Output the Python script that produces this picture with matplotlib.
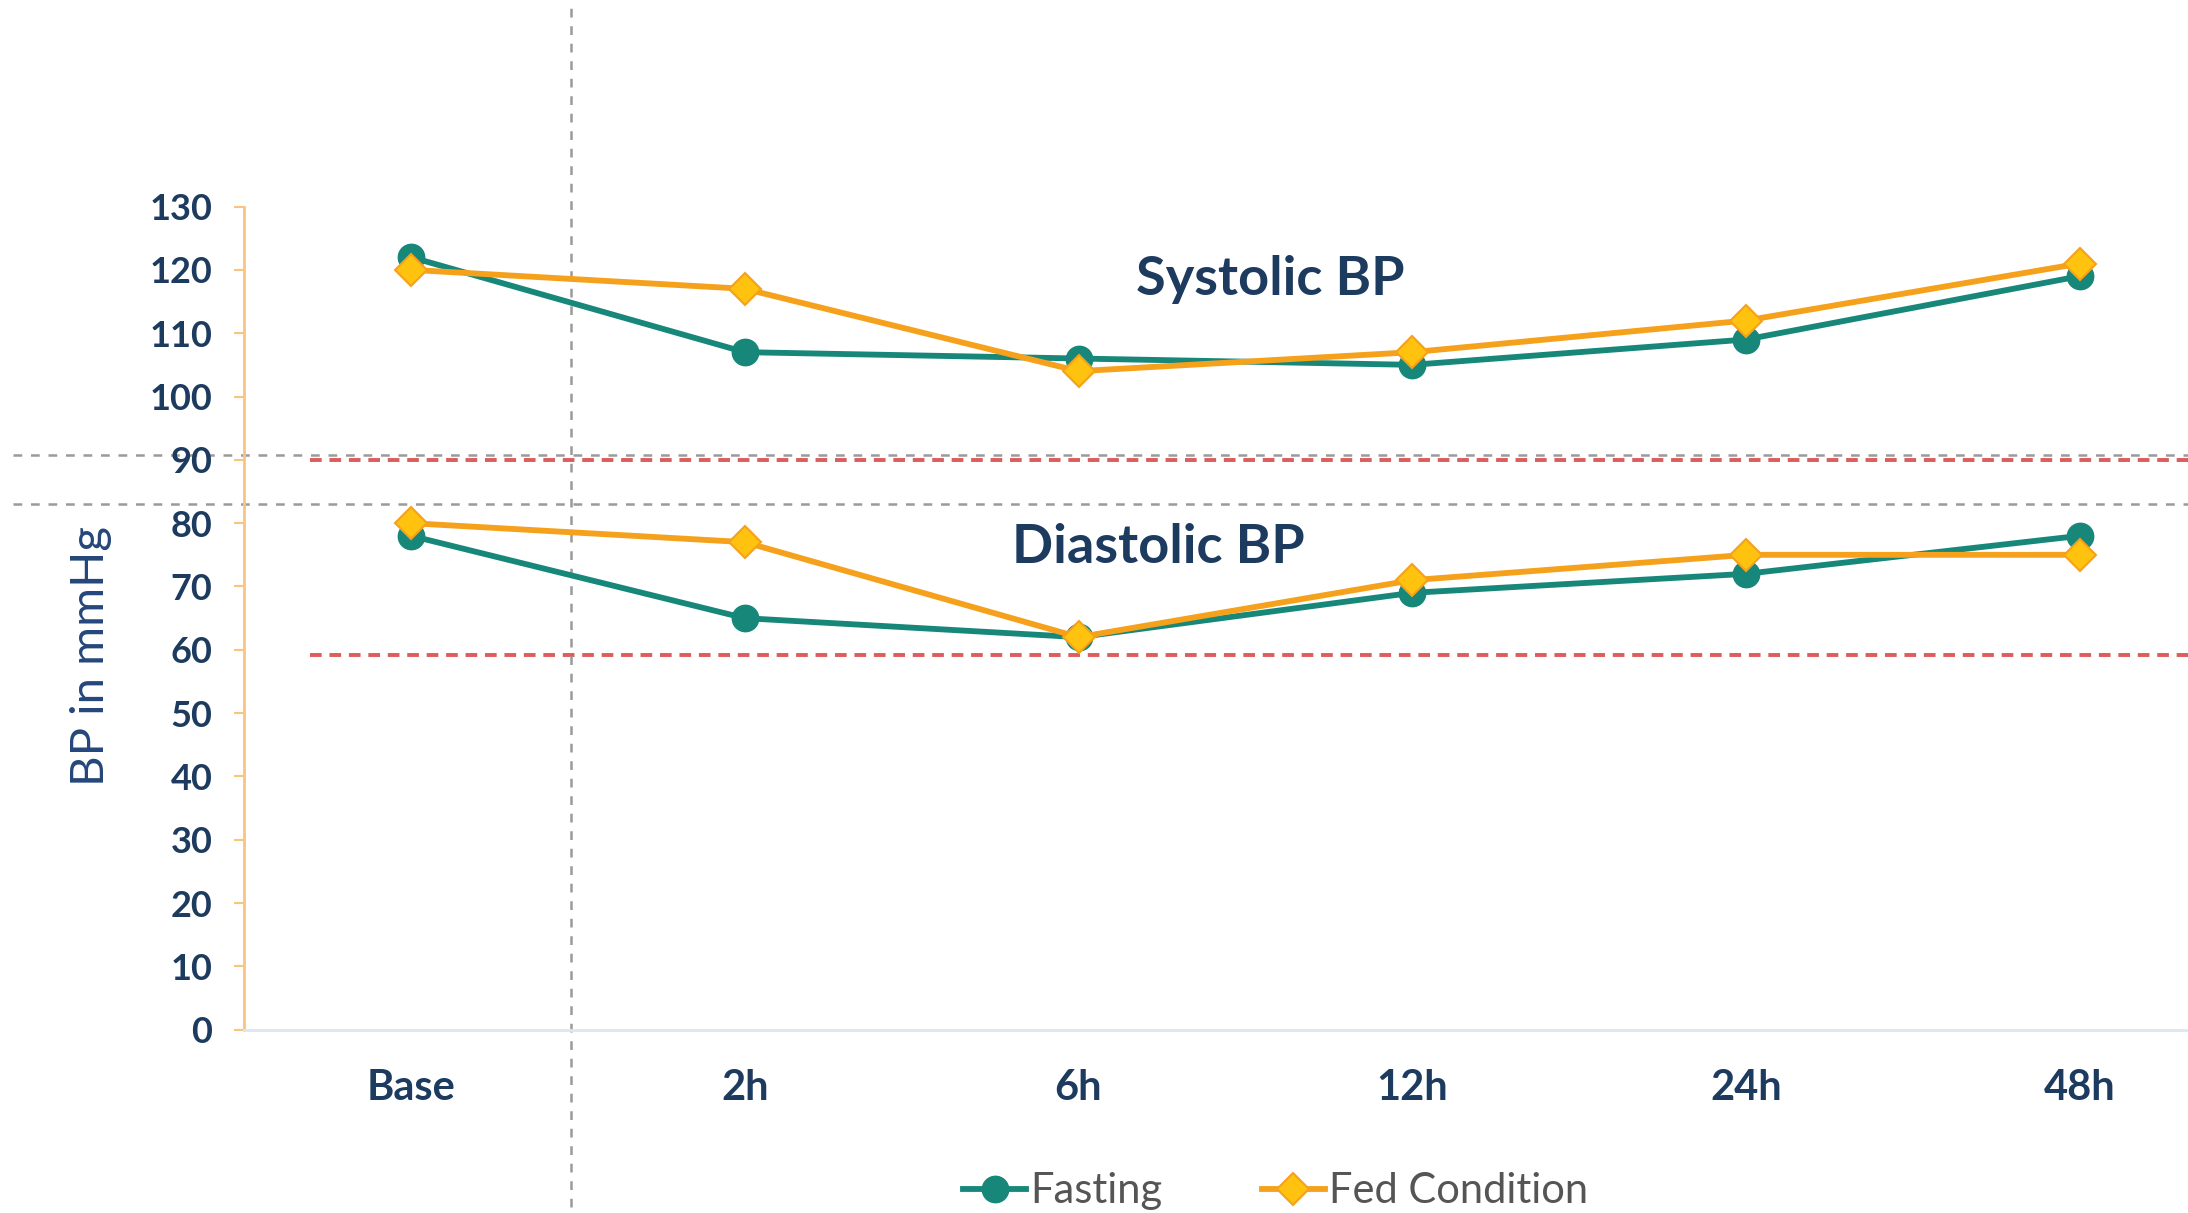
import matplotlib
matplotlib.use("Agg")
import matplotlib.pyplot as plt
import matplotlib.transforms as mtransforms
from matplotlib.lines import Line2D

plt.rcParams['font.family'] = ['Lato', 'DejaVu Sans']

# ---- data ----
categories = ["Base", "2h", "6h", "12h", "24h", "48h"]
fasting_sys = [122, 107, 106, 105, 109, 119]
fed_sys = [120, 117, 104, 107, 112, 121]
fasting_dia = [78, 65, 62, 69, 72, 78]
fed_dia = [80, 77, 62, 71, 75, 75]
y_ticks = list(range(0, 131, 10))
red_thresholds = [90, 59.2]
gray_hlines = [90.8, 83.1]
gray_vline_x = 0.48

NAVY = "#1d3a5f"
TEAL = "#17877a"
ORANGE = "#f5a11c"
GOLD = "#ffc20e"
RED = "#dd5c5c"
GRAY = "#9a9a9a"

fig = plt.figure(figsize=(21.88, 12.13), dpi=100)
W, H = 1568.0, 869.3
ax = fig.add_axes([175 / W, (H - 738) / H, (1610 - 175) / W, (738 - 148) / H])

x = list(range(len(categories)))

# threshold lines
for t in red_thresholds:
    ax.plot([-0.303, 5.5], [t, t], color=RED, lw=2.8, dashes=(3.0, 2.0), zorder=1, clip_on=False)

trans_h = mtransforms.blended_transform_factory(fig.transFigure, ax.transData)
for g in gray_hlines:
    ax.plot([0.006, 1.0], [g, g], color=GRAY, lw=1.8, dashes=(3.5, 3.5), transform=trans_h,
            clip_on=False, zorder=1)
trans_v = mtransforms.blended_transform_factory(ax.transData, fig.transFigure)
ax.plot([gray_vline_x, gray_vline_x], [0.005, 0.993], color=GRAY, lw=1.8, dashes=(3.5, 3.5),
        transform=trans_v, clip_on=False, zorder=1)

LW = 4.2
line_kw_f = dict(color=TEAL, lw=LW, marker='o', markersize=19, markerfacecolor=TEAL,
                 markeredgecolor=TEAL, zorder=3, clip_on=False)
line_kw_d = dict(color=ORANGE, lw=LW, marker='D', markersize=16, markerfacecolor=GOLD,
                 markeredgecolor=ORANGE, markeredgewidth=1.5, zorder=4, clip_on=False)

ax.plot(x, fasting_sys, **line_kw_f)
ax.plot(x, fasting_dia, **line_kw_f)
ax.plot(x, fed_sys, **line_kw_d)
ax.plot(x, fed_dia, **line_kw_d)

ax.text(2.575, 118.5, "Systolic BP", ha='center', va='center', fontsize=39,
        fontweight='bold', color=NAVY)
ax.text(2.24, 76.1, "Diastolic BP", ha='center', va='center', fontsize=39,
        fontweight='bold', color=NAVY)

ax.set_xlim(-0.5, 5.5)
ax.set_ylim(0, 130)
ax.set_xticks(x)
ax.set_xticklabels(categories, fontsize=30, fontweight='bold', color=NAVY)
ax.set_yticks(y_ticks)
ax.set_yticklabels([str(v) for v in y_ticks], fontsize=26, fontweight='bold', color=NAVY)
ax.tick_params(axis='x', length=0, pad=28)
ax.tick_params(axis='y', length=7, width=1.5, color="#f9c47e", pad=16)

for s in ['top', 'right']:
    ax.spines[s].set_visible(False)
ax.spines['left'].set_color("#f9c47e")
ax.spines['left'].set_linewidth(2)
ax.spines['bottom'].set_color("#dde7f2")
ax.spines['bottom'].set_linewidth(2)

fig.text(65 / W, 1 - 470 / H, "BP in mmHg", rotation=90, ha='center', va='center',
         fontsize=34, color="#24467a")

handles = [
    Line2D([0], [0], color=TEAL, lw=LW, marker='o', markersize=19, markerfacecolor=TEAL,
           markeredgecolor=TEAL),
    Line2D([0], [0], color=ORANGE, lw=LW, marker='D', markersize=16, markerfacecolor=GOLD,
           markeredgecolor=ORANGE, markeredgewidth=1.5),
]
leg = fig.legend(handles, ["Fasting", "Fed Condition"], loc='center',
                 bbox_to_anchor=(0.583, 0.018), ncol=2, frameon=False, fontsize=30,
                 handlelength=1.5, handletextpad=0.1, columnspacing=2.4)
for t in leg.get_texts():
    t.set_color("#555555")

fig.savefig("out.png", dpi=100)
